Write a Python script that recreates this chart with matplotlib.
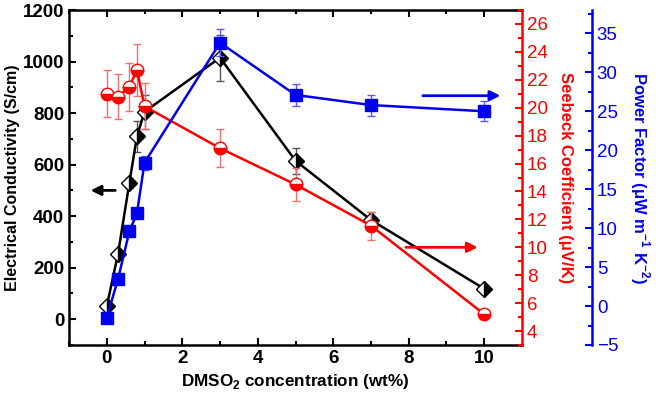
import numpy as np
import matplotlib
matplotlib.use('Agg')
import matplotlib.pyplot as plt

plt.rcParams['font.family'] = ['Liberation Sans', 'DejaVu Sans']
plt.rcParams['mathtext.fontset'] = 'custom'
plt.rcParams['mathtext.rm'] = 'Liberation Sans'
plt.rcParams['mathtext.bf'] = 'Liberation Sans:bold'

# data
conc = [0, 0.3, 0.6, 0.8, 1, 3, 5, 7, 10]
sigma = [50, 255, 530, 710, 805, 1015, 615, 385, 118]
sigma_err = [0, 0, 20, 60, 65, 90, 50, 30, 10]
seebeck = [21.0, 20.8, 21.5, 22.7, 20.1, 17.1, 14.5, 11.55, 5.2]
seebeck_err = [1.7, 1.6, 1.7, 1.85, 1.65, 1.35, 1.2, 1.0, 0.2]
pf = [-1.5, 3.5, 9.6, 11.9, 18.4, 33.8, 27.1, 25.8, 25.0]
pf_err = [0, 0, 0, 0, 0.9, 1.75, 1.45, 1.35, 1.3]

fig = plt.figure(figsize=(6.61, 4.01), dpi=100)
ax = fig.add_axes([0.1044, 0.1397, 0.6853, 0.8353])
ax2 = ax.twinx()
ax3 = ax.twinx()

red = '#ff0000'
blue = '#0000ee'

ax.errorbar(conc, sigma, yerr=sigma_err, color='k', lw=1.8, marker='D', ms=8,
            fillstyle='right', markerfacecoloralt='white', mec='k',
            ecolor='#555555', elinewidth=1, capsize=3, zorder=3)
ax2.errorbar(conc, seebeck, yerr=seebeck_err, color=red, lw=1.8, marker='o', ms=9,
             fillstyle='bottom', markerfacecoloralt='white', mec=red,
             ecolor='#f07070', elinewidth=1, capsize=3)
ax3.errorbar(conc, pf, yerr=pf_err, color=blue, lw=1.8, marker='s', ms=8,
             mec=blue, ecolor='#5a5aee', elinewidth=1, capsize=3)

ax.set_xlim(-1, 11)
ax.set_ylim(-100, 1200)
ax2.set_ylim(3, 27)
ax3.set_ylim(-4.8, 38)

ax.set_xticks([0, 2, 4, 6, 8, 10])
ax.set_xticks(np.arange(-1, 11, 1), minor=True)
ax.set_yticks([0, 200, 400, 600, 800, 1000, 1200])
ax.set_yticks(np.arange(-100, 1200, 100), minor=True)
ax2.set_yticks(np.arange(4, 27, 2))
ax2.set_yticks(np.arange(3, 28, 1), minor=True)
ax3.set_yticks(np.arange(-5, 36, 5))
ax3.set_yticks(np.arange(-5, 38, 2.5), minor=True)

for s in ['left', 'bottom', 'top']:
    ax.spines[s].set_linewidth(1.8)
ax.spines['right'].set_visible(False)
ax.tick_params(which='both', direction='in', width=1.5, top=True, right=False,
               labelsize=13.5)
ax.tick_params(which='major', length=5)
ax.tick_params(which='minor', length=3)
for lab in ax.get_xticklabels() + ax.get_yticklabels():
    lab.set_fontweight('bold')

ax2.spines['right'].set_color(red)
ax2.spines['right'].set_linewidth(1.8)
for s in ['left', 'top', 'bottom']:
    ax2.spines[s].set_visible(False)
ax2.tick_params(which='both', direction='in', colors=red, width=1.5, labelsize=13.5)
ax2.tick_params(which='major', length=5)
ax2.tick_params(which='minor', length=3)

ax3.spines['right'].set_position(('axes', 1.1545))
ax3.spines['right'].set_color(blue)
ax3.spines['right'].set_linewidth(1.8)
for s in ['left', 'top', 'bottom']:
    ax3.spines[s].set_visible(False)
ax3.tick_params(which='both', direction='in', colors=blue, width=1.5, labelsize=13.5)
ax3.tick_params(which='major', length=5)
ax3.tick_params(which='minor', length=3)

ax.set_xlabel(r'DMSO$_\mathbf{2}$ concentration (wt%)', fontsize=12.3, fontweight='bold')
ax.set_ylabel('Electrical Conductivity (S/cm)', fontsize=11.5, fontweight='bold',
              labelpad=2)
ax2.set_ylabel('Seebeck Coefficient (\u03bcV/K)', fontsize=12, fontweight='bold',
               color=red, rotation=270, labelpad=18)
ax3.set_ylabel(r'Power Factor ($\mathbf{\mu}$W m$^\mathbf{-1}$ K$^\mathbf{-2}$)',
               fontsize=12, fontweight='bold', color=blue, rotation=270, labelpad=24)

ax.annotate('', xy=(-0.5, 500), xytext=(0.3, 500),
            arrowprops=dict(arrowstyle='-|>', color='k', lw=2, mutation_scale=15))
ax2.annotate('', xy=(9.9, 10), xytext=(7.85, 10),
             arrowprops=dict(arrowstyle='-|>', color=red, lw=2, mutation_scale=15))
ax3.annotate('', xy=(10.5, 27), xytext=(8.3, 27),
             arrowprops=dict(arrowstyle='-|>', color=blue, lw=2, mutation_scale=15))

fig.savefig('out.png', dpi=100)
